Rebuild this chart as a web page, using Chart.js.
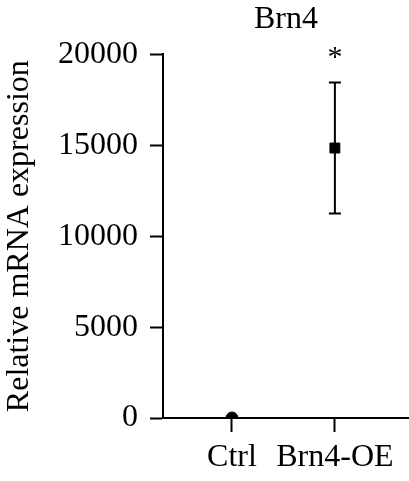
<!DOCTYPE html>
<html>
<head>
<meta charset="utf-8">
<script src="https://cdn.jsdelivr.net/npm/chart.js@4/dist/chart.umd.min.js"></script>
<style>
  html, body { margin: 0; padding: 0; background: #fff; }
  canvas { display: block; }
</style>
</head>
<body>
<canvas id="brn4Chart" width="409" height="481"></canvas>
<script>
// Data
const groups = ['Ctrl', 'Brn4-OE'];
const means = [0, 14850];
const errors = [0, 3600];
const markers = ['circle', 'rect'];
const significance = ['', '*'];
const yTicks = [0, 5000, 10000, 15000, 20000];

const serif = '"Liberation Serif", "DejaVu Serif", serif';

// Error bars + asterisk drawn through the scales
const errorBarPlugin = {
    id: 'errorBars',
    afterDatasetsDraw(chart) {
        const ctx = chart.ctx;
        const xs = chart.scales.x;
        const ys = chart.scales.y;
        ctx.save();
        ctx.strokeStyle = '#000';
        ctx.lineWidth = 2;
        means.forEach((m, i) => {
            const x = xs.getPixelForValue(i);
            const top = ys.getPixelForValue(m + errors[i]);
            const bot = ys.getPixelForValue(m - errors[i]);
            if (errors[i] > 0) {
                ctx.beginPath();
                ctx.moveTo(x, top);
                ctx.lineTo(x, bot);
                ctx.moveTo(x - 6, top);
                ctx.lineTo(x + 6, top);
                ctx.moveTo(x - 6, bot);
                ctx.lineTo(x + 6, bot);
                ctx.stroke();
            }
            if (significance[i]) {
                ctx.fillStyle = '#000';
                ctx.font = '30px ' + serif;
                ctx.textAlign = 'center';
                ctx.textBaseline = 'middle';
                ctx.fillText(significance[i], x, top - 24);
            }
        });
        ctx.restore();
    }
};

const ctx = document.getElementById('brn4Chart').getContext('2d');
const brn4Chart = new Chart(ctx, {
    type: 'scatter',
    data: {
        datasets: [{
            data: means.map((m, i) => ({ x: i, y: m })),
            pointStyle: markers,
            pointRadius: [6, 7],
            backgroundColor: '#000',
            borderColor: '#000',
            showLine: false
        }]
    },
    options: {
        responsive: false,
        animation: false,
        layout: { autoPadding: false, padding: 0 },
        plugins: {
            legend: { display: false },
            tooltip: { enabled: false },
            title: {
                display: true,
                text: 'Brn4',
                fullSize: false,
                color: '#000',
                font: { family: serif, size: 32, weight: 'normal' },
                padding: { top: 0, bottom: 16 }
            }
        },
        scales: {
            x: {
                type: 'linear',
                min: -0.67,
                max: 1.72,
                afterBuildTicks: (s) => { s.ticks = groups.map((g, i) => ({ value: i })); },
                afterFit: (s) => { s.paddingLeft = 0; s.paddingRight = 0; s.height = 63; },
                ticks: {
                    callback: (v) => groups[v],
                    color: '#000',
                    font: { family: serif, size: 32 },
                    padding: 6,
                    maxRotation: 0,
                    autoSkip: false
                },
                grid: { drawOnChartArea: false, tickLength: 14, tickColor: '#000', tickWidth: 2 },
                border: { color: '#000', width: 2 }
            },
            y: {
                min: 0,
                max: 20000,
                afterBuildTicks: (s) => { s.ticks = yTicks.map(v => ({ value: v })); },
                afterFit: (s) => { s.width = 163; },
                ticks: {
                    callback: (v) => String(v),
                    color: '#000',
                    font: { family: serif, size: 32 },
                    padding: 12
                },
                grid: { drawOnChartArea: false, tickLength: 13, tickColor: '#000', tickWidth: 2 },
                border: { color: '#000', width: 2 },
                title: {
                    display: true,
                    text: 'Relative mRNA expression',
                    color: '#000',
                    font: { family: serif, size: 32 },
                    padding: { top: 0, bottom: 6 }
                }
            }
        }
    },
    plugins: [errorBarPlugin]
});
</script>
</body>
</html>
